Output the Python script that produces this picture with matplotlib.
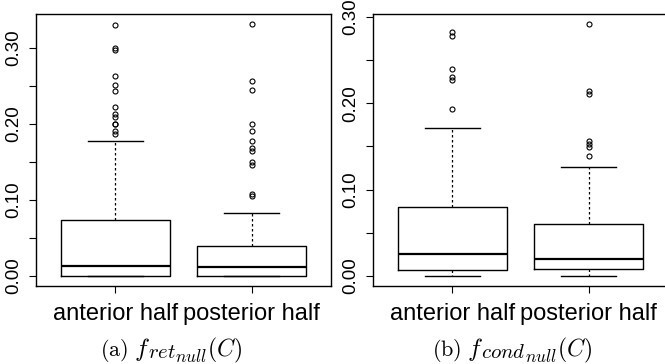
import matplotlib
matplotlib.use("Agg")
import matplotlib.pyplot as plt
import numpy as np

plt.rcParams['font.family'] = ['Liberation Sans', 'DejaVu Sans']
plt.rcParams['mathtext.fontset'] = 'cm'

categories = ["anterior half", "posterior half"]

# Panel (a): f_ret_null(C)
a_q1 = [0.0, 0.0]
a_med = [0.0127, 0.0114]
a_q3 = [0.0733, 0.0395]
a_whislo = [0.0, 0.0]
a_whishi = [0.177, 0.0833]
a_fliers_ant = [0.3294, 0.300, 0.2975, 0.263, 0.251, 0.2425, 0.222, 0.213, 0.209,
                0.200, 0.1995, 0.190, 0.187]
a_fliers_post = [0.331, 0.2557, 0.2447, 0.200, 0.1908, 0.1768, 0.1675, 0.1636,
                 0.1496, 0.1457, 0.108, 0.105]

# Panel (b): f_cond_null(C)
b_q1 = [0.0073, 0.0077]
b_med = [0.0251, 0.0200]
b_q3 = [0.0796, 0.0599]
b_whislo = [0.0, 0.0]
b_whishi = [0.1711, 0.126]
b_fliers_ant = [0.2823, 0.2773, 0.2398, 0.2302, 0.2268, 0.1931]
b_fliers_post = [0.2916, 0.2144, 0.2109, 0.1564, 0.1530, 0.1491, 0.139]

# caption pieces: (label, function, subscript, sub-subscript, argument)
captions = [("(a)", "f", "ret", "null", "(C)"),
            ("(b)", "f", "cond", "null", "(C)")]
yticks = [0.0, 0.05, 0.10, 0.15, 0.20, 0.25, 0.30]
yticklabels = ["0.00", "", "0.10", "", "0.20", "", "0.30"]

W, H = 665, 364
fig = plt.figure(figsize=(W / 100, H / 100), dpi=100)

def make_stats(q1, med, q3, lo, hi, fliers_list):
    stats = []
    for i in range(2):
        stats.append(dict(q1=q1[i], med=med[i], q3=q3[i], whislo=lo[i],
                          whishi=hi[i], fliers=fliers_list[i], label=categories[i]))
    return stats

panels = [
    make_stats(a_q1, a_med, a_q3, a_whislo, a_whishi, [a_fliers_ant, a_fliers_post]),
    make_stats(b_q1, b_med, b_q3, b_whislo, b_whishi, [b_fliers_ant, b_fliers_post]),
]
lefts = [36, 373]
cap_left = [100, 432]

renderer = fig.canvas.get_renderer()

def put(x, y, s, size):
    t = fig.text(x / W, (H - y) / H, s, ha='left', va='baseline', fontsize=size)
    bb = t.get_window_extent(renderer=renderer)
    return bb.x1

for k, stats in enumerate(panels):
    ax = fig.add_axes([lefts[k] / W, (H - 286) / H, 295 / W, 272 / H])
    ax.bxp(stats, positions=[1, 2], widths=0.8,
           boxprops=dict(color='black', linewidth=1.0),
           medianprops=dict(color='black', linewidth=1.6),
           whiskerprops=dict(color='black', linewidth=0.9, linestyle=(0, (2, 2))),
           capprops=dict(color='black', linewidth=1.0),
           capwidths=0.4,
           flierprops=dict(marker='o', markerfacecolor='none', markeredgecolor='black',
                           markersize=3.6, markeredgewidth=0.8))
    allv = [v for s in stats for v in [s['whislo'], s['whishi']] + list(s['fliers'])]
    lo, hi = min(allv), max(allv)
    r = hi - lo
    ax.set_ylim(lo - 0.04 * r, hi + 0.04 * r)
    ax.set_xlim(0.42, 2.58)
    ax.set_yticks(yticks)
    ax.set_yticklabels(yticklabels, rotation=90, va='center', fontsize=13.5)
    ax.set_xticks([1, 2])
    ax.set_xticklabels(categories, fontsize=17)
    ax.tick_params(axis='y', length=5, width=0.8, pad=5)
    ax.tick_params(axis='x', length=5, width=0.8, pad=7)
    for sp in ax.spines.values():
        sp.set_linewidth(1.0)

    lab, fn, sub1, sub2, arg = captions[k]
    x = cap_left[k]
    x = put(x, 356, r"$\mathrm{%s}$" % lab, 16)
    x = put(x + 6, 356, r"$%s$" % fn, 18)
    x = put(x - 2, 358.5, r"$%s$" % sub1, 15)
    x = put(x - 1, 362, r"$%s$" % sub2, 12.5)
    x = put(x, 356, r"$%s$" % arg, 17)

fig.savefig("out.png", dpi=100)
